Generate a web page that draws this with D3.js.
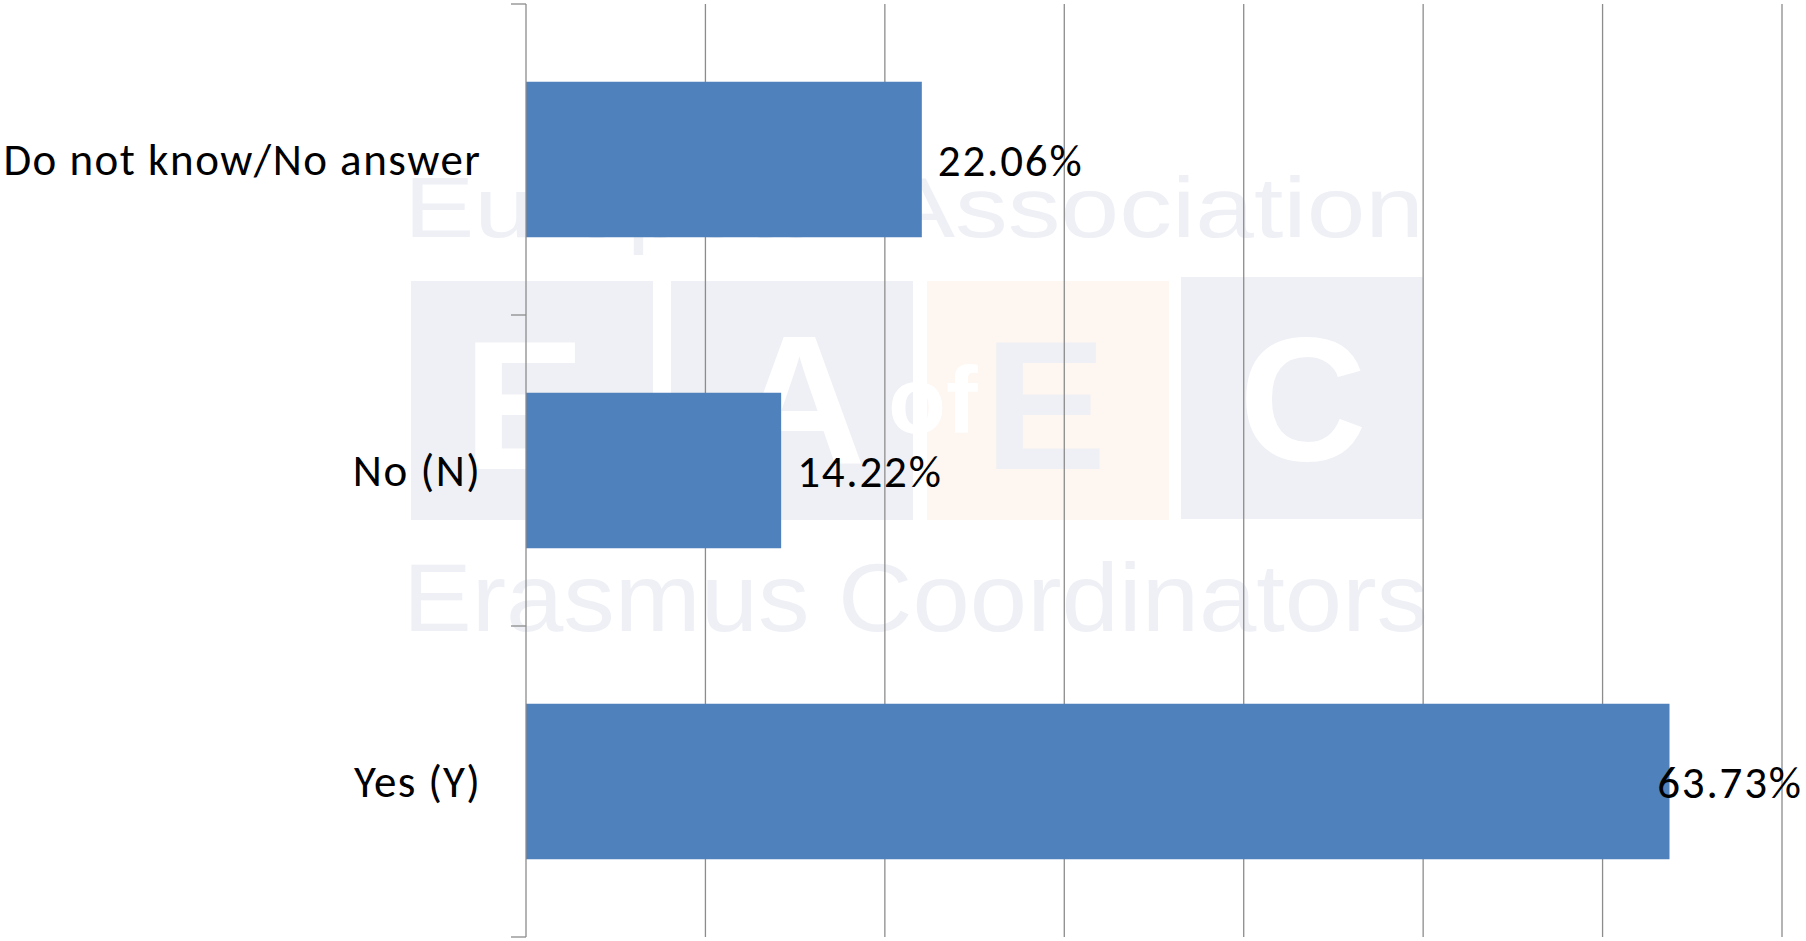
<!DOCTYPE html>
<html>
<head>
<meta charset="utf-8">
<script src="https://cdn.jsdelivr.net/npm/d3@7"></script>
<style>
  html, body { margin: 0; padding: 0; background: #ffffff; }
  svg { display: block; }
</style>
</head>
<body>
<svg id="chart" width="1806" height="941"></svg>
<script>
// ---------- data ----------
const categories = ["Do not know/No answer", "No (N)", "Yes (Y)"];
const values = [22.06, 14.22, 63.73];          // percent
const xTicks = [0, 10, 20, 30, 40, 50, 60, 70]; // gridline positions (percent)

// ---------- layout ----------
const W = 1806, H = 941;
const plot = { left: 526, right: 1782, top: 4, bottom: 937 };
const labelFont = "Carlito, Calibri, Lato, 'Open Sans', sans-serif";
const labelSize = 45;
const widthStretch = 48 / 45; // match the wider label widths of the reference

const svg = d3.select("#chart");

// ---------- watermark (decorative background) ----------
const wm = svg.append("g").attr("class", "watermark");
const wmGray = "#eff0f5", wmOrange = "#fef6f0";
wm.append("rect").attr("x", 411).attr("y", 281).attr("width", 242).attr("height", 239).attr("fill", wmGray);
wm.append("rect").attr("x", 671).attr("y", 281).attr("width", 242).attr("height", 239).attr("fill", wmGray);
wm.append("rect").attr("x", 927).attr("y", 281).attr("width", 242).attr("height", 239).attr("fill", wmOrange);
wm.append("rect").attr("x", 1181).attr("y", 277).attr("width", 242).attr("height", 242).attr("fill", wmGray);
const bigFont = "'Liberation Sans', Arial, sans-serif";
function wmText(t, x, y, size, fill, weight, len) {
  const el = wm.append("text").attr("x", x).attr("y", y)
    .attr("font-family", bigFont).attr("font-size", size)
    .attr("font-weight", weight).attr("fill", fill).text(t);
  if (len) el.attr("textLength", len).attr("lengthAdjust", "spacingAndGlyphs");
  return el;
}
wmText("European Association", 404, 237, 85, "#eef0f6", 400, 1020);
wmText("Erasmus Coordinators", 403, 631, 97, "#eef0f6", 400, 1025);
wmText("E", 463, 469, 184, "#ffffff", 700);
wmText("A", 733, 463, 184, "#ffffff", 700);
wmText("of", 888, 433, 95, "#ffffff", 700);
wmText("E", 984, 469, 184, wmGray, 700);
wmText("C", 1239, 460, 177, "#ffffff", 700);

// ---------- scales ----------
const x = d3.scaleLinear().domain([0, 70]).range([plot.left, plot.right]);
const y = d3.scaleBand().domain(categories)
  .range([plot.top, plot.bottom]).paddingInner(0.5).paddingOuter(0.25);

// ---------- gridlines ----------
svg.append("g").attr("class", "grid")
  .selectAll("line").data(xTicks.filter(d => d > 0)).join("line")
  .attr("x1", d => x(d)).attr("x2", d => x(d))
  .attr("y1", plot.top).attr("y2", plot.bottom)
  .attr("stroke", "#8c8c8c").attr("stroke-width", 1.3);

// ---------- bars ----------
svg.append("g").attr("class", "bars")
  .selectAll("rect").data(categories).join("rect")
  .attr("x", x(0))
  .attr("y", d => y(d))
  .attr("width", (d, i) => x(values[i]) - x(0))
  .attr("height", y.bandwidth())
  .attr("fill", "#4f81bd");

// ---------- y axis ----------
const yAxisG = svg.append("g").attr("class", "y-axis");
yAxisG.append("line")
  .attr("x1", plot.left).attr("x2", plot.left)
  .attr("y1", plot.top).attr("y2", plot.bottom)
  .attr("stroke", "#8c8c8c").attr("stroke-width", 1.3);
const step = y.step();
const boundaries = d3.range(categories.length + 1).map(i => plot.top + i * step);
yAxisG.selectAll("line.tick").data(boundaries).join("line")
  .attr("class", "tick")
  .attr("x1", plot.left - 15).attr("x2", plot.left)
  .attr("y1", d => d).attr("y2", d => d)
  .attr("stroke", "#8c8c8c").attr("stroke-width", 1.3);

function stretch(sel) {
  sel.each(function() {
    const w = this.getComputedTextLength();
    d3.select(this).attr("textLength", w * widthStretch).attr("lengthAdjust", "spacing");
  });
}

yAxisG.selectAll("text").data(categories).join("text")
  .attr("x", 480)
  .attr("y", d => y(d) + y.bandwidth() / 2 + 15)
  .attr("text-anchor", "end")
  .attr("font-family", labelFont).attr("font-size", labelSize)
  .attr("fill", "#000000")
  .text(d => d)
  .call(stretch);

// ---------- value labels ----------
const fmt = d3.format(".2f");
svg.append("g").attr("class", "values")
  .selectAll("text").data(categories).join("text")
  .attr("y", d => y(d) + y.bandwidth() / 2 + 16)
  .attr("font-family", labelFont).attr("font-size", labelSize)
  .attr("fill", "#000000")
  .text((d, i) => fmt(values[i]) + "%")
  .call(stretch)
  .each(function(d, i) {
    const w = this.getComputedTextLength() * widthStretch;
    let px = x(values[i]) + 16;
    if (px + w > W - 5) px = W - 5 - w;
    d3.select(this).attr("x", px);
  });
</script>
</body>
</html>
